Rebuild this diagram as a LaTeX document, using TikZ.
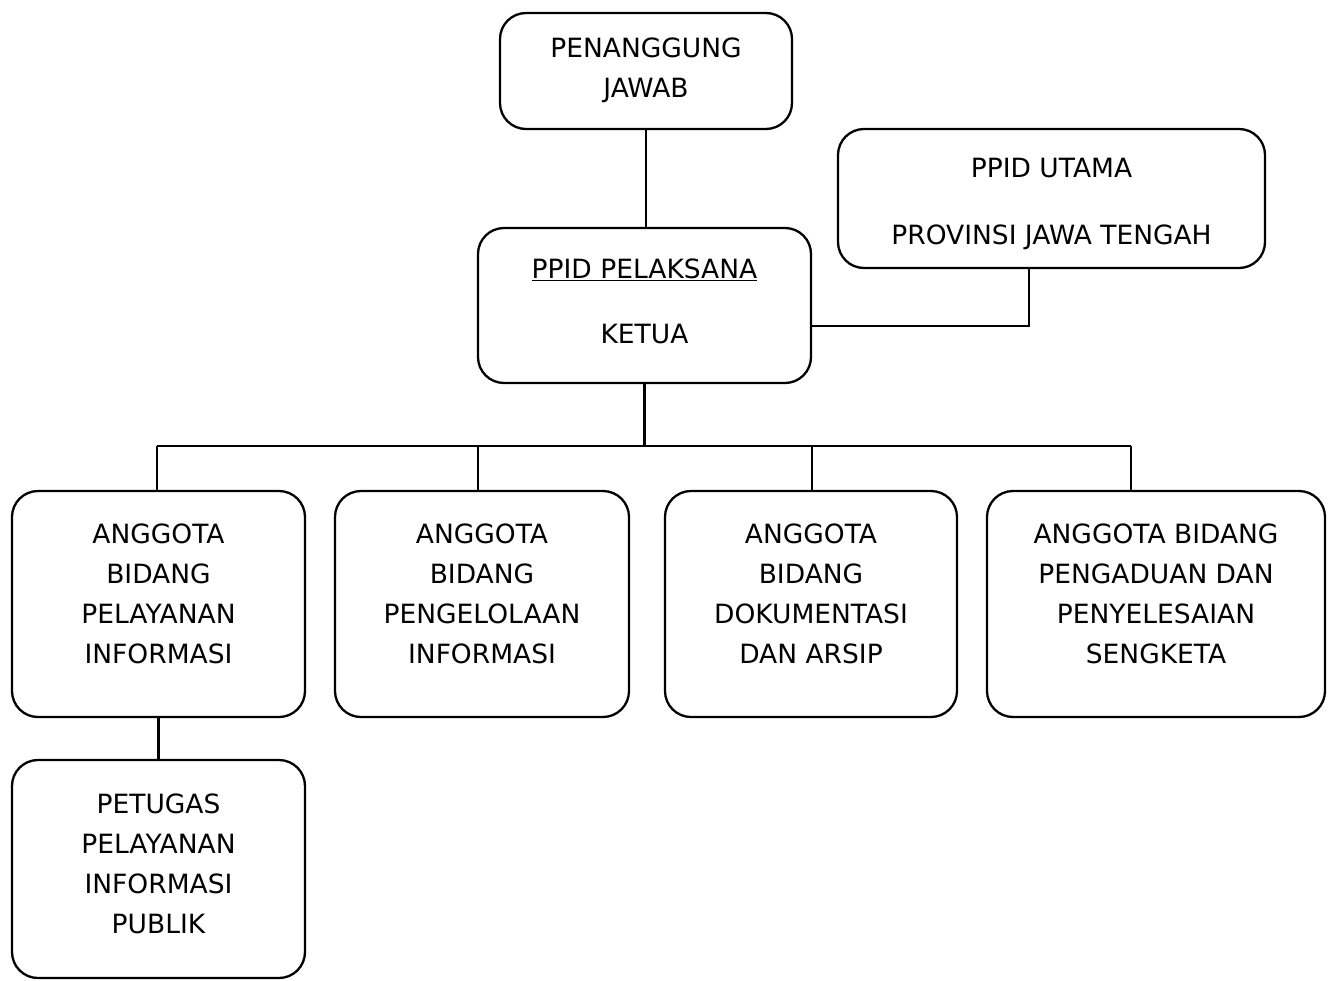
\documentclass[tikz,border=0pt]{standalone}
\usepackage{fontspec}
\setmainfont{DejaVu Sans}
\begin{document}
\begin{tikzpicture}[x=1pt,y=1pt,
  box/.style={draw,line width=2.3pt,rounded corners=26pt,inner sep=0pt},
  txt/.style={align=center,inner sep=0pt,font=\fontsize{26.5}{40}\selectfont},
  conn/.style={line width=2.3pt}]
\useasboundingbox (0,0) rectangle (1332,-980);
\node[box,minimum width=292,minimum height=116] (pj) at (646,-71) {};
\node[box,minimum width=427,minimum height=139] (utama) at (1051.5,-198.5) {};
\node[box,minimum width=333,minimum height=155] (pel) at (644.5,-305.5) {};
\node[box,minimum width=293,minimum height=226] (b1) at (158.5,-604) {};
\node[box,minimum width=294,minimum height=226] (b2) at (482,-604) {};
\node[box,minimum width=292,minimum height=226] (b3) at (811,-604) {};
\node[box,minimum width=338,minimum height=226] (b4) at (1156,-604) {};
\node[box,minimum width=293,minimum height=218] (pet) at (158.5,-869) {};
\node[txt] (pjt) at ([yshift=1pt]pj.center) {PENANGGUNG\\JAWAB};
\node[txt] (utamat) at ([yshift=-5pt]utama.center) {PPID UTAMA\\[27pt]PROVINSI JAWA TENGAH};
\node[txt] (pelt) at ([yshift=4pt]pel.center) {\underline{PPID PELAKSANA}\\[25pt]KETUA};
\node[txt] (b1t) at ([yshift=10pt]b1.center) {ANGGOTA\\BIDANG\\PELAYANAN\\INFORMASI};
\node[txt] (b2t) at ([yshift=10pt]b2.center) {ANGGOTA\\BIDANG\\PENGELOLAAN\\INFORMASI};
\node[txt] (b3t) at ([yshift=10pt]b3.center) {ANGGOTA\\BIDANG\\DOKUMENTASI\\DAN ARSIP};
\node[txt] (b4t) at ([yshift=10pt]b4.center) {ANGGOTA BIDANG\\PENGADUAN DAN\\PENYELESAIAN\\SENGKETA};
\node[txt] (pett) at ([yshift=5pt]pet.center) {PETUGAS\\PELAYANAN\\INFORMASI\\PUBLIK};
\coordinate (j) at (1029,-326);
\coordinate (bus) at (643,-446);
\coordinate (d1) at (157,-446);
\coordinate (d2) at (478,-446);
\coordinate (d3) at (812,-446);
\coordinate (d4) at (1131,-446);
\draw[conn] (pj.south) -- (pj.south |- pel.north);
\draw[conn] (pel.east |- j) -- (j) -- (j |- utama.south);
\draw[conn] (pel.south) -- (pel.south |- bus);
\draw[conn] (d1) -- (d4);
\draw[conn] (d1) -- (d1 |- b1.north);
\draw[conn] (d2) -- (d2 |- b2.north);
\draw[conn] (d3) -- (d3 |- b3.north);
\draw[conn] (d4) -- (d4 |- b4.north);
\draw[conn] (b1.south) -- (pet.north);
\end{tikzpicture}
\end{document}
